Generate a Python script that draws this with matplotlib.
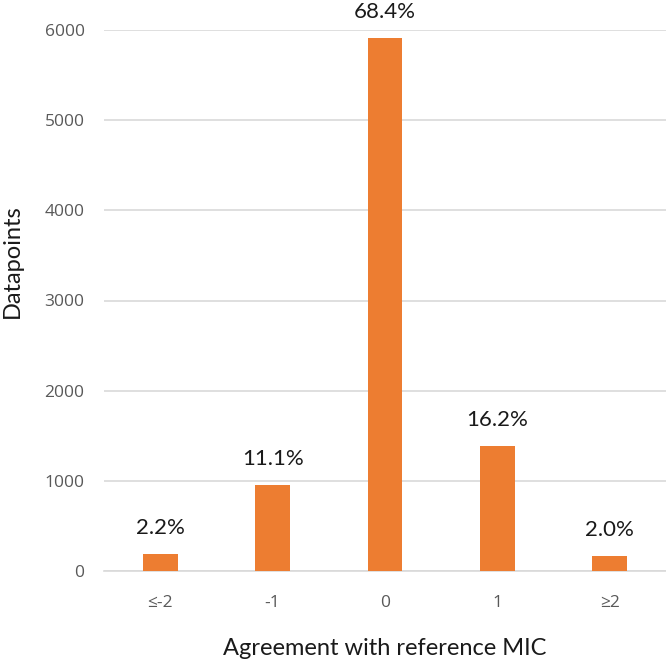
import matplotlib.pyplot as plt

# Datos
categories = ["≤-2", "-1", "0", "1", "≥2"]
counts = [185, 955, 5912, 1389, 170]
percent_labels = ["2.2%", "11.1%", "68.4%", "16.2%", "2.0%"]
y_ticks = [0, 1000, 2000, 3000, 4000, 5000, 6000]

plt.rcParams["font.family"] = ["Lato", "DejaVu Sans"]

W, H = 666, 659
fig = plt.figure(figsize=(W / 100, H / 100), dpi=100)
# area do grafico em pixels: x 104..666, y 30..571
ax = fig.add_axes([104 / W, 1 - 571 / H, (666 - 104) / W, (571 - 30) / H])

x = list(range(len(categories)))
ax.bar(x, counts, width=0.31, color="#ED7D31", zorder=3)

# Rotulos de porcentagem
for xi, c, lab in zip(x, counts, percent_labels):
    ax.annotate(lab, (xi, c), xytext=(0, 14.4), textcoords="offset points",
                ha="center", va="baseline", fontsize=16, color="#1a1a1a",
                annotation_clip=False)

ax.set_xlim(-0.5, 4.5)
ax.set_ylim(0, 6000)
ax.set_yticks(y_ticks)
ax.set_xticks(x)
ax.set_xticklabels(categories)
ax.grid(axis="y", color="#D9D9D9", linewidth=1.2, zorder=0)
ax.tick_params(axis="both", length=0, labelsize=12.5, labelcolor="#595959")
for t in ax.get_xticklabels() + ax.get_yticklabels():
    t.set_fontfamily(["Open Sans", "DejaVu Sans"])
ax.tick_params(axis="x", pad=17)
ax.tick_params(axis="y", pad=14)

for s in ["top", "right", "left"]:
    ax.spines[s].set_visible(False)
ax.spines["bottom"].set_color("#D9D9D9")
ax.spines["bottom"].set_linewidth(1.2)

ax.set_xlabel("Agreement with reference MIC", fontsize=17, color="#1a1a1a")
ax.xaxis.label.set_va("baseline")
ax.xaxis.set_label_coords(0.5, -(655 - 571) / 541)

ax.set_ylabel("Datapoints", fontsize=17, color="#1a1a1a")
ax.yaxis.label.set_va("center")
ax.yaxis.set_label_coords((12 - 104) / 562, (571 - 261) / 541)

plt.savefig("out.png", dpi=100)
plt.close()
